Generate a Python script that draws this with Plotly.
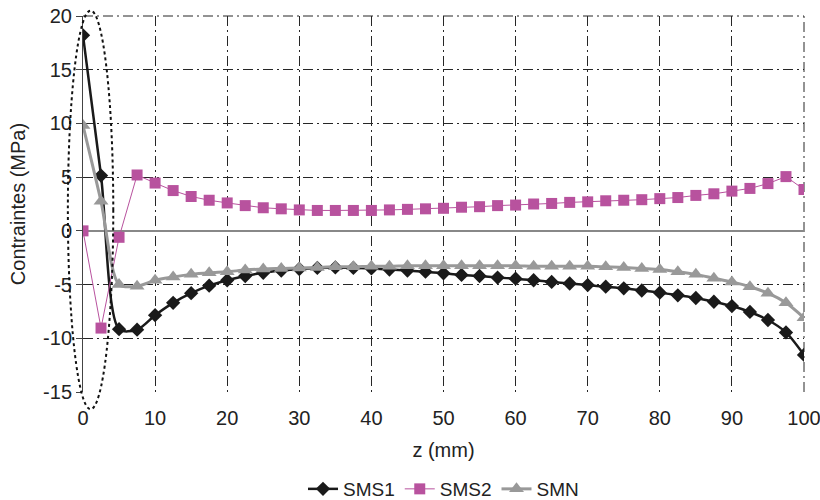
import plotly.graph_objects as go

z_mm = [0, 2.5, 5, 7.5, 10, 12.5, 15, 17.5, 20, 22.5, 25, 27.5, 30, 32.5, 35, 37.5,
        40, 42.5, 45, 47.5, 50, 52.5, 55, 57.5, 60, 62.5, 65, 67.5, 70, 72.5, 75,
        77.5, 80, 82.5, 85, 87.5, 90, 92.5, 95, 97.5, 100]

sms1 = [18.2, 5.15, -9.15, -9.2, -7.85, -6.7, -5.8, -5.1, -4.6, -4.2, -3.9, -3.7,
        -3.55, -3.45, -3.4, -3.45, -3.5, -3.6, -3.7, -3.8, -3.95, -4.1, -4.2, -4.35,
        -4.45, -4.6, -4.75, -4.9, -5.05, -5.2, -5.35, -5.55, -5.75, -6.0, -6.25,
        -6.6, -7.0, -7.55, -8.3, -9.45, -11.55]

sms2 = [0.0, -9.05, -0.6, 5.2, 4.45, 3.75, 3.2, 2.85, 2.6, 2.35, 2.15, 2.05, 1.95,
        1.9, 1.9, 1.9, 1.9, 1.95, 2.0, 2.05, 2.1, 2.2, 2.25, 2.35, 2.4, 2.5, 2.55,
        2.65, 2.7, 2.8, 2.85, 2.9, 3.0, 3.1, 3.3, 3.45, 3.7, 3.95, 4.4, 5.05, 3.85]

smn = [9.8, 2.75, -5.0, -5.15, -4.6, -4.3, -4.05, -3.9, -3.8, -3.65, -3.55, -3.5,
       -3.45, -3.4, -3.35, -3.35, -3.3, -3.3, -3.25, -3.25, -3.25, -3.25, -3.25,
       -3.25, -3.25, -3.3, -3.3, -3.3, -3.3, -3.35, -3.4, -3.5, -3.6, -3.8, -4.05,
       -4.4, -4.75, -5.2, -5.8, -6.7, -8.1]

x_ticks = [0, 10, 20, 30, 40, 50, 60, 70, 80, 90, 100]
y_ticks = [-15, -10, -5, 0, 5, 10, 15, 20]
y_tick_labels = ["-15", "-10", "-5", "0", "5", "10", "15", "20"]
x_range = [0, 100]
y_range = [-15, 20]

# dotted ellipse highlighting the surface zone (data units)
ell_x = [-2.1, 4.2]
ell_y = [-16.6, 20.5]

FONT = "Liberation Sans, Arial, sans-serif"
FS = 20
GRID = "#262626"
GRID_DASH = "10px,4px,2px,4px"

fig = go.Figure()
fig.add_trace(go.Scatter(
    x=z_mm, y=sms1, name="SMS1", mode="lines+markers",
    line=dict(color="#1a1a1a", width=2.5, shape="spline", smoothing=0.8),
    marker=dict(symbol="diamond", size=11, color="#1a1a1a")))
fig.add_trace(go.Scatter(
    x=z_mm, y=sms2, name="SMS2", mode="lines+markers",
    line=dict(color="#b8529e", width=1),
    marker=dict(symbol="square", size=11, color="#b8529e")))
fig.add_trace(go.Scatter(
    x=z_mm, y=smn, name="SMN", mode="lines+markers",
    line=dict(color="#999999", width=3, shape="spline", smoothing=0.8),
    marker=dict(symbol="triangle-up", size=13, color="#999999")))

def to_paper(v, r):
    return (v - r[0]) / (r[1] - r[0])

fig.add_shape(type="circle", xref="paper", yref="paper",
              x0=to_paper(ell_x[0], x_range), x1=to_paper(ell_x[1], x_range),
              y0=to_paper(ell_y[0], y_range), y1=to_paper(ell_y[1], y_range),
              line=dict(color="#111111", width=2, dash="dot"))

fig.update_layout(
    width=820, height=500,
    margin=dict(l=83, r=16, t=16, b=108, autoexpand=False),
    paper_bgcolor="white", plot_bgcolor="white",
    font=dict(family=FONT, size=FS, color="#222222"),
    showlegend=True,
    legend=dict(orientation="h", x=0.5, xanchor="center", xref="paper",
                y=-0.258, yanchor="middle", font=dict(size=19),
                itemwidth=30, tracegroupgap=0),
)
fig.update_xaxes(
    range=x_range, tickvals=x_ticks, showgrid=True, gridcolor=GRID,
    griddash=GRID_DASH, gridwidth=1, zeroline=False, showline=False,
    ticks="outside", ticklen=8, tickcolor="rgba(0,0,0,0)",
    tickfont=dict(size=FS), automargin=False, ticklabeloverflow="allow",
    title=dict(text="z (mm)", font=dict(size=FS), standoff=14))
fig.update_yaxes(
    range=y_range, tickvals=y_ticks, ticktext=y_tick_labels,
    showgrid=True, gridcolor=GRID,
    griddash=GRID_DASH, gridwidth=1, zeroline=True, zerolinecolor="#888888",
    zerolinewidth=2, showline=True, linecolor="#444444", linewidth=1,
    ticks="outside", ticklen=6, tickcolor="#444444",
    tickfont=dict(size=FS), automargin=False, ticklabeloverflow="allow",
    title=dict(text="Contraintes (MPa)", font=dict(size=FS), standoff=12))

# top and right dash-dot borders
fig.add_shape(type="line", xref="paper", yref="paper", x0=0, x1=1, y0=1, y1=1,
              line=dict(color=GRID, width=1, dash=GRID_DASH), layer="below")
fig.add_shape(type="line", xref="paper", yref="paper", x0=1, x1=1, y0=0, y1=1,
              line=dict(color=GRID, width=1, dash=GRID_DASH), layer="below")

fig.write_html("out.html",
               config={"displayModeBar": False},
               post_script="document.body.style.margin='0';"
                           "document.body.style.overflow='hidden';")
